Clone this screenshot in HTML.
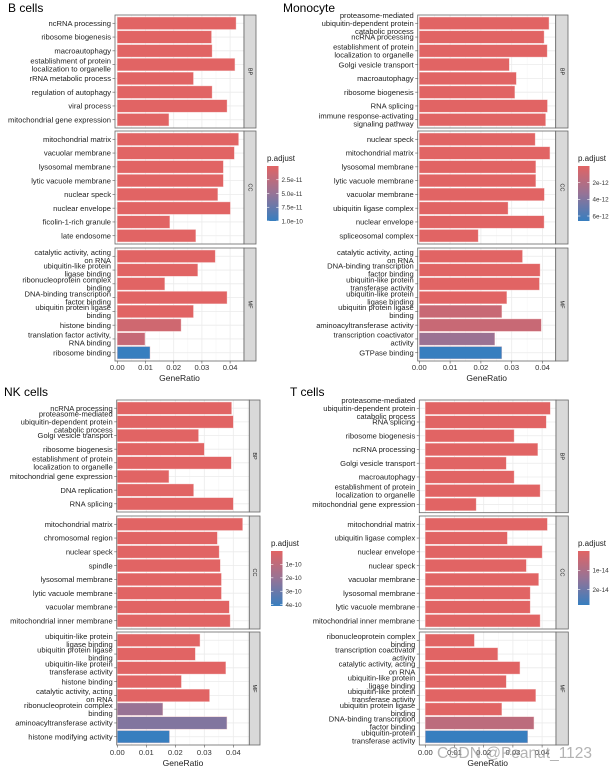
<!DOCTYPE html>
<html><head><meta charset="utf-8">
<style>
html,body{margin:0;padding:0;background:#fff;}
svg{display:block;font-family:"Liberation Sans",sans-serif;}
</style></head>
<body>
<svg id="fig" width="615" height="769" viewBox="0 0 615 769" xmlns="http://www.w3.org/2000/svg">
<defs>
<linearGradient id="padjGrad" x1="0" y1="0" x2="0" y2="1">
<stop offset="0" stop-color="rgb(225,100,100)"/>
<stop offset="0.5" stop-color="rgb(150,115,150)"/>
<stop offset="1" stop-color="rgb(55,126,191)"/>
</linearGradient>
</defs>
</svg>
<script>
// ---------- data ----------
const tickValues = [0, 0.01, 0.02, 0.03, 0.04];
const tickLabels = ["0.00", "0.01", "0.02", "0.03", "0.04"];
const facetNames = ["BP", "CC", "MF"];

// B cells
const bBPLabels = ["ncRNA processing","ribosome biogenesis","macroautophagy","establishment of protein\nlocalization to organelle","rRNA metabolic process","regulation of autophagy","viral process","mitochondrial gene expression"];
const bBPValues = [0.0421,0.0334,0.0336,0.0417,0.0270,0.0336,0.0389,0.0183];
const bBPPadj = [0,0,0,0,0,0,0,0];
const bCCLabels = ["mitochondrial matrix","vacuolar membrane","lysosomal membrane","lytic vacuole membrane","nuclear speck","nuclear envelope","ficolin-1-rich granule","late endosome"];
const bCCValues = [0.0430,0.0415,0.0376,0.0376,0.0356,0.0401,0.0186,0.0278];
const bCCPadj = [0,0,0,0,0,0,0,0];
const bMFLabels = ["catalytic activity, acting\non RNA","ubiquitin-like protein\nligase binding","ribonucleoprotein complex\nbinding","DNA-binding transcription\nfactor binding","ubiquitin protein ligase\nbinding","histone binding","translation factor activity,\nRNA binding","ribosome binding"];
const bMFValues = [0.0347,0.0285,0.0168,0.0389,0.0270,0.0226,0.0098,0.0116];
const bMFPadj = [0,0,0,0,0,1.2e-11,1.8e-11,1.0e-10];
const bLegendValues = [2.5e-11,5.0e-11,7.5e-11,1.0e-10];
const bLegendLabels = ["2.5e-11","5.0e-11","7.5e-11","1.0e-10"];

// Monocyte
const mBPLabels = ["proteasome-mediated\nubiquitin-dependent protein\ncatabolic process","ncRNA processing","establishment of protein\nlocalization to organelle","Golgi vesicle transport","macroautophagy","ribosome biogenesis","RNA splicing","immune response-activating\nsignaling pathway"];
const mBPValues = [0.0421,0.0405,0.0415,0.0292,0.0315,0.0310,0.0416,0.0410];
const mBPPadj = [0,0,0,0,0,0,0,0];
const mCCLabels = ["nuclear speck","mitochondrial matrix","lysosomal membrane","lytic vacuole membrane","vacuolar membrane","ubiquitin ligase complex","nuclear envelope","spliceosomal complex"];
const mCCValues = [0.0376,0.0424,0.0378,0.0378,0.0406,0.0288,0.0405,0.0191];
const mCCPadj = [0,0,0,0,0,0,0,0];
const mMFLabels = ["catalytic activity, acting\non RNA","DNA-binding transcription\nfactor binding","ubiquitin-like protein\ntransferase activity","ubiquitin-like protein\nligase binding","ubiquitin protein ligase\nbinding","aminoacyltransferase activity","transcription coactivator\nactivity","GTPase binding"];
const mMFValues = [0.0335,0.0392,0.0390,0.0284,0.0268,0.0396,0.0245,0.0268];
const mMFPadj = [0,0,0,0,1.1e-12,1.1e-12,3.1e-12,6.6e-12];
const mLegendValues = [2e-12,4e-12,6e-12];
const mLegendLabels = ["2e-12","4e-12","6e-12"];

// NK cells
const nBPLabels = ["ncRNA processing","proteasome-mediated\nubiquitin-dependent protein\ncatabolic process","Golgi vesicle transport","ribosome biogenesis","establishment of protein\nlocalization to organelle","mitochondrial gene expression","DNA replication","RNA splicing"];
const nBPValues = [0.0394,0.0400,0.0280,0.0300,0.0393,0.0178,0.0263,0.0400];
const nBPPadj = [0,0,0,0,0,0,0,0];
const nCCLabels = ["mitochondrial matrix","chromosomal region","nuclear speck","spindle","lysosomal membrane","lytic vacuole membrane","vacuolar membrane","mitochondrial inner membrane"];
const nCCValues = [0.0432,0.0345,0.0351,0.0355,0.0359,0.0359,0.0386,0.0389];
const nCCPadj = [0,0,0,0,0,0,0,0];
const nMFLabels = ["ubiquitin-like protein\nligase binding","ubiquitin protein ligase\nbinding","ubiquitin-like protein\ntransferase activity","histone binding","catalytic activity, acting\non RNA","ribonucleoprotein complex\nbinding","aminoacyltransferase activity","histone modifying activity"];
const nMFValues = [0.0285,0.0269,0.0374,0.0221,0.0318,0.0157,0.0378,0.0180];
const nMFPadj = [0,0,0,0,0,2.0e-10,2.5e-10,4.1e-10];
const nLegendValues = [1e-10,2e-10,3e-10,4e-10];
const nLegendLabels = ["1e-10","2e-10","3e-10","4e-10"];

// T cells
const tBPLabels = ["proteasome-mediated\nubiquitin-dependent protein\ncatabolic process","RNA splicing","ribosome biogenesis","ncRNA processing","Golgi vesicle transport","macroautophagy","establishment of protein\nlocalization to organelle","mitochondrial gene expression"];
const tBPValues = [0.0428,0.0414,0.0304,0.0385,0.0277,0.0304,0.0393,0.0174];
const tBPPadj = [0,0,0,0,0,0,0,0];
const tCCLabels = ["mitochondrial matrix","ubiquitin ligase complex","nuclear envelope","nuclear speck","vacuolar membrane","lysosomal membrane","lytic vacuole membrane","mitochondrial inner membrane"];
const tCCValues = [0.0418,0.0281,0.0400,0.0346,0.0388,0.0359,0.0359,0.0393];
const tCCPadj = [0,0,0,0,0,0,0,0];
const tMFLabels = ["ribonucleoprotein complex\nbinding","transcription coactivator\nactivity","catalytic activity, acting\non RNA","ubiquitin-like protein\nligase binding","ubiquitin-like protein\ntransferase activity","ubiquitin protein ligase\nbinding","DNA-binding transcription\nfactor binding","ubiquitin-protein\ntransferase activity"];
const tMFValues = [0.0168,0.0248,0.0324,0.0277,0.0378,0.0262,0.0372,0.0351];
const tMFPadj = [0,0,0,0,0,0,0.7e-14,2.8e-14];
const tLegendValues = [1e-14,2e-14];
const tLegendLabels = ["1e-14","2e-14"];

// ---------- layout ----------
const panels = [
 {key:"b-cells", title:"B cells", tx:8, ty:12, left:115, right:244, stripR:256, x0:117.3, unit:28.2,
  fy:[[15,128],[131,244],[248,361]], tickY:370, xTitleY:381, lx:267, lTitleY:161, lTop:166, lBot:221, pMax:1.0e-10,
  facets:[[bBPLabels,bBPValues,bBPPadj],[bCCLabels,bCCValues,bCCPadj],[bMFLabels,bMFValues,bMFPadj]],
  legV:bLegendValues, legL:bLegendLabels},
 {key:"monocyte", title:"Monocyte", tx:283, ty:12, left:417.7, right:555.7, stripR:568, x0:419.3, unit:30.8,
  fy:[[15,128],[131,244],[248,361]], tickY:370, xTitleY:381, lx:578, lTitleY:161, lTop:166, lBot:221, pMax:6.6e-12,
  facets:[[mBPLabels,mBPValues,mBPPadj],[mCCLabels,mCCValues,mCCPadj],[mMFLabels,mMFValues,mMFPadj]],
  legV:mLegendValues, legL:mLegendLabels},
 {key:"nk-cells", title:"NK cells", tx:4, ty:396, left:116.7, right:249.3, stripR:260, x0:117.3, unit:29,
  fy:[[400,512],[516,629],[632,745]], tickY:755, xTitleY:766, lx:271, lTitleY:546, lTop:551, lBot:606, pMax:4.1e-10,
  facets:[[nBPLabels,nBPValues,nBPPadj],[nCCLabels,nCCValues,nCCPadj],[nMFLabels,nMFValues,nMFPadj]],
  legV:nLegendValues, legL:nLegendLabels},
 {key:"t-cells", title:"T cells", tx:290, ty:396, left:419.3, right:556, stripR:568.3, x0:425.3, unit:29.2,
  fy:[[400,512.7],[516,629],[632,745]], tickY:755, xTitleY:766, lx:578, lTitleY:546, lTop:551, lBot:605, pMax:2.8e-14,
  facets:[[tBPLabels,tBPValues,tBPPadj],[tCCLabels,tCCValues,tCCPadj],[tMFLabels,tMFValues,tMFPadj]],
  legV:tLegendValues, legL:tLegendLabels}
];

const NS = "http://www.w3.org/2000/svg";
const svg = document.getElementById("fig");
function mk(tag, attrs, parent){
  const e = document.createElementNS(NS, tag);
  for (const k in attrs) e.setAttribute(k, attrs[k]);
  parent.appendChild(e);
  return e;
}
const RED=[225,100,100], MID=[150,115,150], BLUE=[55,126,191];
function colorFor(t){
  t=Math.max(0,Math.min(1,t));
  let a,b,u;
  if(t<0.5){a=RED;b=MID;u=t/0.5;}else{a=MID;b=BLUE;u=(t-0.5)/0.5;}
  return "rgb("+a.map((c,i)=>Math.round(c+(b[i]-c)*u)).join(",")+")";
}

panels.forEach(p=>{
  const g = mk("g",{},svg);
  
  
  const xs = v => p.x0 + v/0.01*p.unit;

  const title = mk("text",{x:p.tx,y:p.ty,"font-size":12,fill:"#000"},g);
  title.textContent = p.title;
  
  

  p.facets.forEach((f,fi)=>{
    const [labels, values, padj] = f;
    const [y0,y1] = p.fy[fi];
    const n = labels.length;
    const slot = (y1-y0)/(n+0.2);
    const yc = i => y0 + (0.6+i)*slot;
    const fg = mk("g",{},g);
    
    
    mk("rect",{x:p.left,y:y0,width:p.right-p.left,height:y1-y0,fill:"#fff"},fg);
    // grid
    tickValues.forEach((tv,ti)=>{
      mk("line",{x1:xs(tv),x2:xs(tv),y1:y0,y2:y1,stroke:"#ebebeb","stroke-width":0.8},fg);
      mk("line",{x1:xs(tv+0.005),x2:xs(tv+0.005),y1:y0,y2:y1,stroke:"#f4f4f4","stroke-width":0.5},fg);
    });
    for(let i=0;i<n;i++) mk("line",{x1:p.left,x2:p.right,y1:yc(i),y2:yc(i),stroke:"#ebebeb","stroke-width":0.8},fg);
    // bars
    for(let i=0;i<n;i++){
      const h = slot*0.9;
      const bar = mk("rect",{x:xs(0),y:yc(i)-h/2,width:xs(values[i])-xs(0),height:h,
        fill:colorFor(padj[i]/p.pMax),stroke:"#f3c9c9","stroke-width":0.4},fg);
      
      
      // tick
      mk("line",{x1:p.left-2.5,x2:p.left,y1:yc(i),y2:yc(i),stroke:"#555","stroke-width":0.6},fg);
      const lines = labels[i].split("\n");
      const lt = mk("text",{x:p.left-4,"font-size":7.6,fill:"#222","text-anchor":"end"},fg);
      
      
      lines.forEach((ln,li)=>{
        const ts = mk("tspan",{x:p.left-4,y:yc(i)+2.7+(li-(lines.length-1)/2)*8},lt);
        ts.textContent = ln;
      });
    }
    mk("rect",{x:p.left,y:y0,width:p.right-p.left,height:y1-y0,fill:"none",stroke:"#666","stroke-width":0.8},fg);
    // strip
    const st = mk("rect",{x:p.right,y:y0,width:p.stripR-p.right,height:y1-y0,fill:"#d9d9d9",stroke:"#666","stroke-width":0.8},fg);
    
    
    const sx=(p.right+p.stripR)/2, sy=(y0+y1)/2;
    const stx = mk("text",{x:sx,y:sy,"font-size":5.5,fill:"#1a1a1a","text-anchor":"middle","dominant-baseline":"middle",transform:"rotate(90 "+sx+" "+sy+")"},fg);
    stx.textContent = facetNames[fi];
    
    
  });

  // x axis
  const yb = p.fy[2][1];
  tickValues.forEach((tv,ti)=>{
    mk("line",{x1:xs(tv),x2:xs(tv),y1:yb,y2:yb+2.5,stroke:"#555","stroke-width":0.6},g);
    const t = mk("text",{x:xs(tv),y:p.tickY,"font-size":7.6,fill:"#333","text-anchor":"middle"},g);
    t.textContent = tickLabels[ti];
    
    
  });
  const xt = mk("text",{x:(p.left+p.right)/2,y:p.xTitleY,"font-size":8.5,fill:"#222","text-anchor":"middle"},g);
  xt.textContent = "GeneRatio";
  
  

  // legend
  const lg = mk("g",{},g);
  
  
  const ltt = mk("text",{x:p.lx,y:p.lTitleY,"font-size":8,fill:"#222"},lg);
  ltt.textContent = "p.adjust";
  mk("rect",{x:p.lx,y:p.lTop,width:11.5,height:p.lBot-p.lTop,fill:"url(#padjGrad)"},lg);
  const ly = v => p.lTop + v/p.pMax*(p.lBot-p.lTop);
  p.legV.forEach((v,i)=>{
    mk("line",{x1:p.lx,x2:p.lx+2.3,y1:ly(v),y2:ly(v),stroke:"#fff","stroke-width":0.6},lg);
    mk("line",{x1:p.lx+9.2,x2:p.lx+11.5,y1:ly(v),y2:ly(v),stroke:"#fff","stroke-width":0.6},lg);
    const t = mk("text",{x:p.lx+14.5,y:ly(v)+2.3,"font-size":6.3,fill:"#333"},lg);
    t.textContent = p.legL[i];
    
    
  });
});

const wm = mk("text",{x:437,y:758,"font-size":15.5,fill:"#9a9a9a","fill-opacity":0.75},svg);
wm.textContent = "CSDN @Peanut_1123";


</script>
</body></html>
